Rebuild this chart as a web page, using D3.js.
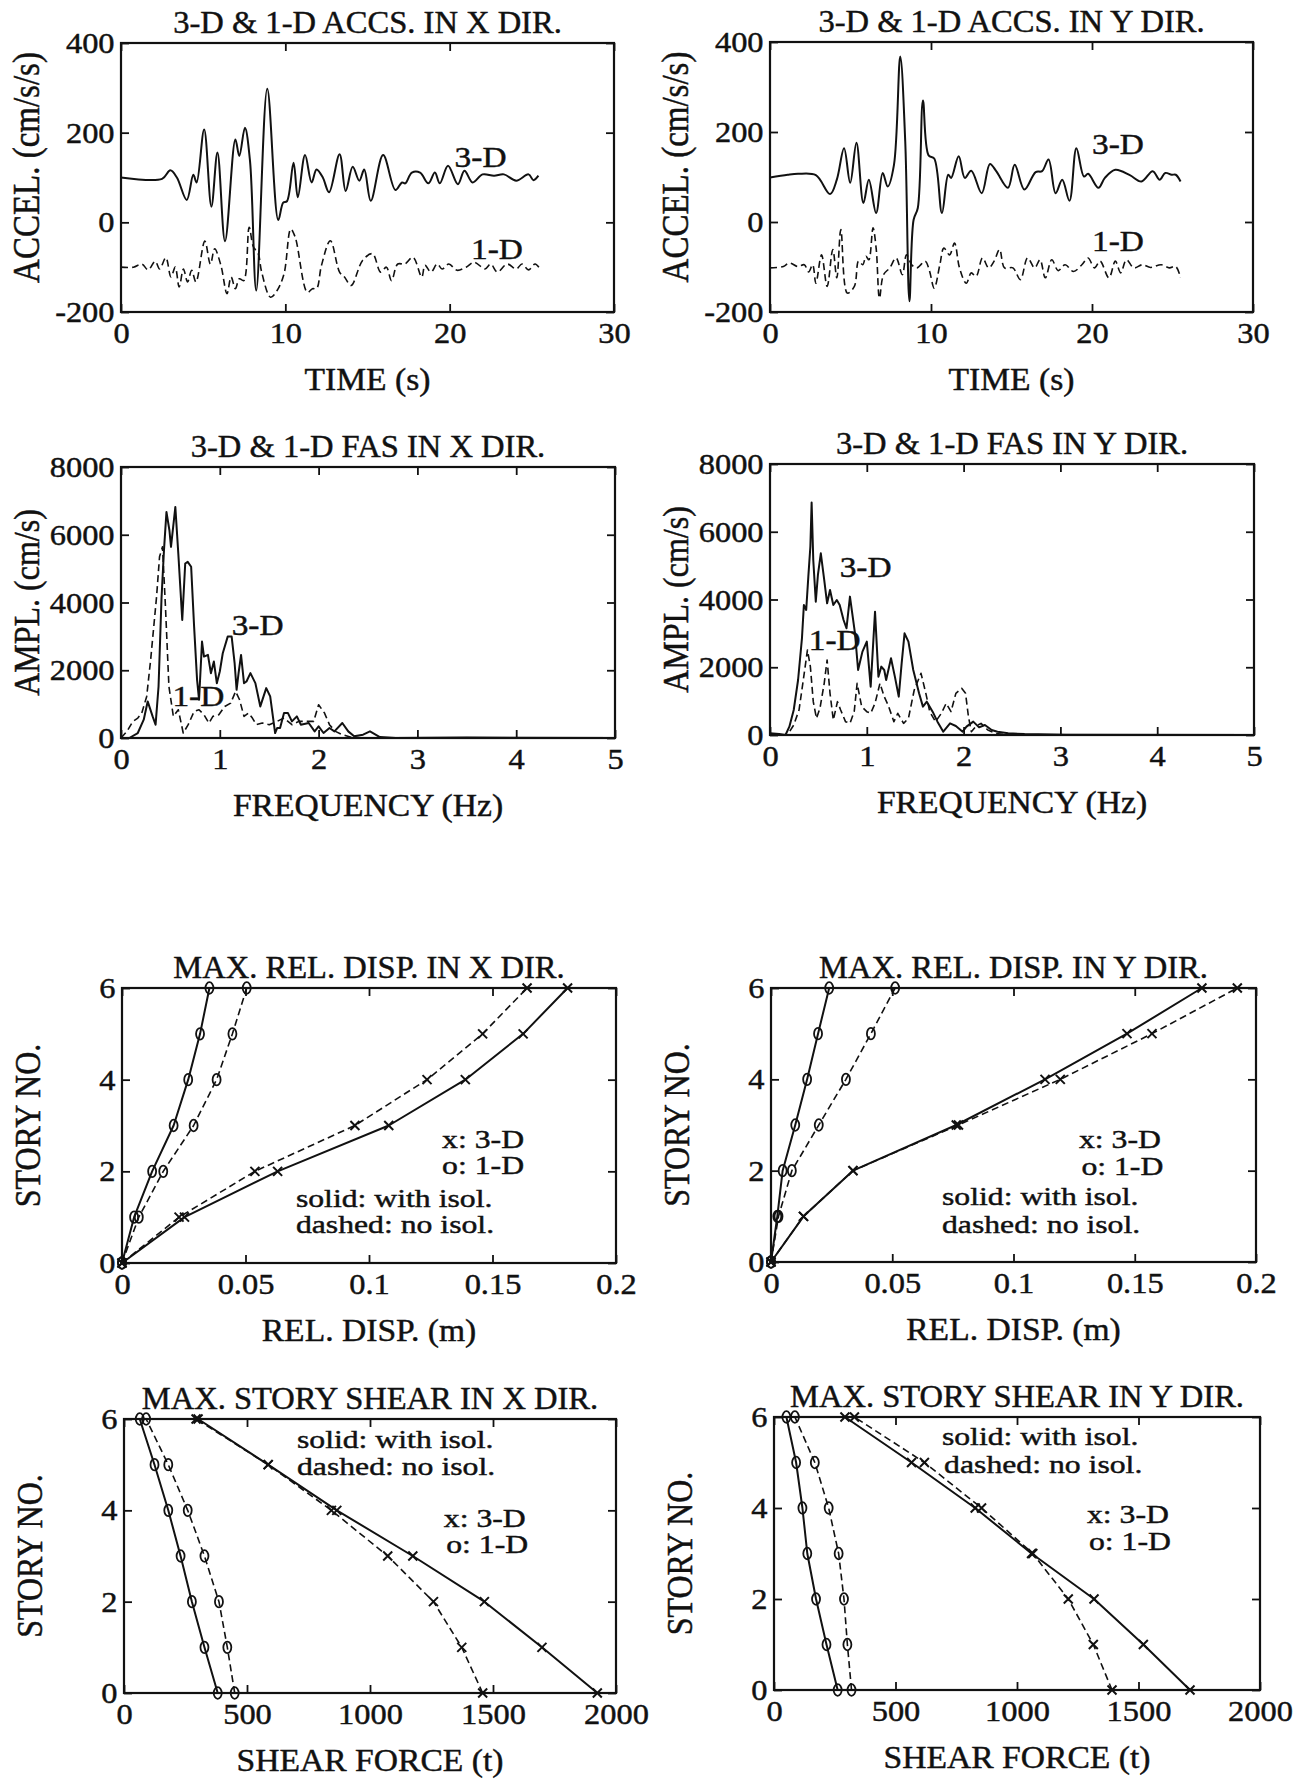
<!DOCTYPE html>
<html><head><meta charset="utf-8">
<script src="https://cdn.jsdelivr.net/npm/d3@7"></script>
<style>
body{margin:0;background:#fff;}
svg{display:block;}
text{font-family:"Liberation Serif","Times New Roman",serif;fill:#111;stroke:#111;stroke-width:0.45px;}
</style></head><body>
<svg id="fig" width="1313" height="1787"></svg>
<script>
// ---------- acceleration time histories [time s, accel cm/s/s] (3-D offset +100, 1-D offset -100) ----------
const accX3D = [[0,100],[2.5,97],[3.0,116],[3.4,100],[4.0,50],[4.4,106],[4.6,89],[5.06,207],[5.5,35],[5.87,156],[6.33,-42],[6.96,185],[7.2,148],[7.54,211],[7.85,137],[8.23,-152],[8.9,298],[9.57,5],[9.87,44],[10.1,47],[10.5,133],[10.76,56],[11.2,150],[11.6,89],[11.9,118],[12.28,100],[12.66,67],[13.3,152],[13.67,70],[14.1,124],[14.5,93],[14.8,118],[15.2,48],[15.95,150],[16.7,72],[17.1,89],[17.3,87],[17.7,111],[18.2,111],[18.7,87],[19.1,111],[19.4,87],[19.9,126],[20.5,85],[20.9,115],[21.4,89],[22.0,107],[22.7,104],[23.3,107],[24.05,93],[24.8,107],[25.1,94],[25.4,104]];
const accX1D = [[0,-100],[0.76,-100],[1.27,-93],[1.65,-106],[2.08,-87],[2.35,-104],[2.73,-79],[3.04,-122],[3.3,-100],[3.54,-144],[3.8,-104],[4.05,-133],[4.3,-107],[4.56,-133],[5.1,-42],[5.44,-93],[5.7,-59],[6.08,-96],[6.45,-159],[6.7,-122],[6.96,-148],[7.2,-126],[7.47,-130],[7.8,-11],[8.05,-54],[8.35,-70],[8.56,-111],[9.1,-167],[9.5,-152],[9.92,-115],[10.33,-15],[10.6,-33],[11.34,-156],[11.65,-148],[11.9,-148],[12.2,-96],[12.74,-41],[13.3,-111],[13.6,-122],[14.0,-141],[14.7,-85],[15.3,-70],[15.8,-111],[16.15,-100],[16.46,-130],[16.84,-93],[17.27,-93],[17.77,-78],[18.3,-122],[18.5,-96],[18.86,-111],[19.24,-93],[19.54,-104],[19.95,-93],[20.45,-107],[21.0,-100],[21.5,-89],[22.15,-104],[22.5,-93],[22.9,-111],[23.5,-93],[24.05,-104],[24.4,-93],[24.8,-106],[25.2,-93],[25.5,-104]];
const accY3D = [[0,99],[1.1,105],[1.74,107],[2.85,104],[3.73,62],[4.15,94],[4.6,164],[4.98,87],[5.37,176],[5.8,42],[6.14,94],[6.59,20],[7.0,109],[7.31,79],[7.7,127],[8.09,368],[8.4,179],[8.66,-176],[8.92,5],[9.18,31],[9.5,270],[9.85,148],[10.2,141],[10.68,20],[11.07,105],[11.25,98],[11.72,146],[12.1,98],[12.5,114],[13.15,64],[13.66,129],[14.05,113],[14.78,76],[15.2,127],[15.8,72],[16.5,111],[16.9,113],[17.3,139],[17.74,64],[18.15,94],[18.6,47],[19.03,164],[19.5,101],[19.76,107],[20.4,76],[20.8,98],[21.45,116],[22.35,104],[23.07,90],[23.77,113],[24.2,94],[24.55,109],[24.95,105],[25.2,105],[25.5,90]];
const accY1D = [[0,-102],[0.83,-99],[1.2,-91],[1.74,-99],[2.13,-95],[2.4,-111],[2.65,-95],[2.85,-136],[3.2,-73],[3.55,-143],[3.9,-61],[4.15,-124],[4.4,-17],[4.8,-158],[5.24,-143],[5.5,-87],[5.76,-95],[5.96,-76],[6.14,-84],[6.4,-13],[6.6,-61],[6.8,-169],[7.05,-117],[7.44,-102],[7.83,-80],[8.22,-117],[8.48,-73],[8.8,-95],[9.12,-102],[9.64,-87],[9.9,-108],[10.2,-147],[10.55,-95],[10.8,-58],[11.15,-73],[11.46,-47],[11.77,-102],[12.19,-136],[12.5,-113],[12.8,-121],[13.2,-80],[13.58,-102],[13.92,-87],[14.26,-61],[14.57,-102],[15.09,-102],[15.55,-128],[16.0,-80],[16.44,-102],[16.77,-84],[17.1,-124],[17.5,-84],[17.9,-108],[18.33,-95],[18.85,-110],[19.37,-95],[19.76,-80],[20.15,-102],[20.5,-87],[21.05,-124],[21.45,-87],[21.78,-113],[22.14,-84],[22.6,-102],[23.13,-95],[23.64,-101],[24.3,-95],[24.8,-102],[25.2,-99],[25.5,-124]];

// ---------- Fourier amplitude spectra [frequency Hz, amplitude cm/s] ----------
const fasX3D = [[0,0],[0.084,0],[0.17,147],[0.23,540],[0.27,1080],[0.32,638],[0.35,393],[0.38,1521],[0.41,4122],[0.435,5545],[0.46,6673],[0.49,6133],[0.506,5643],[0.55,6820],[0.58,5447],[0.62,3484],[0.65,5152],[0.675,5201],[0.71,5054],[0.74,3288],[0.77,1717],[0.79,1129],[0.82,2846],[0.84,2404],[0.88,2453],[0.91,1914],[0.94,2257],[0.97,1619],[1.0,1963],[1.03,2502],[1.08,2993],[1.12,2993],[1.15,2208],[1.17,1423],[1.19,1914],[1.215,2453],[1.245,1619],[1.27,1668],[1.31,1914],[1.36,1619],[1.41,932],[1.47,1472],[1.51,1227],[1.56,147],[1.58,294],[1.61,294],[1.65,736],[1.69,736],[1.73,491],[1.78,638],[1.82,393],[1.9,442],[1.96,196],[2.0,343],[2.05,147],[2.11,294],[2.16,196],[2.24,442],[2.3,196],[2.36,49],[2.45,98],[2.52,196],[2.62,29],[2.78,0],[3.5,15],[5.0,0]];
const fasX1D = [[0,0],[0.06,196],[0.12,491],[0.17,589],[0.21,736],[0.26,1227],[0.30,2306],[0.36,4171],[0.39,5349],[0.42,5643],[0.45,3877],[0.485,1521],[0.53,638],[0.58,834],[0.63,147],[0.68,393],[0.74,785],[0.79,834],[0.84,687],[0.89,442],[0.93,638],[0.99,687],[1.05,932],[1.11,1030],[1.16,1374],[1.2,1129],[1.245,638],[1.29,736],[1.33,589],[1.37,393],[1.43,442],[1.5,393],[1.58,491],[1.65,589],[1.73,393],[1.8,491],[1.88,491],[1.95,491],[2.0,981],[2.06,736],[2.11,393],[2.17,196],[2.24,98],[2.32,29],[2.45,0],[5.0,0]];
const fasY3D = [[0,49],[0.095,30],[0.16,0],[0.2,246],[0.245,738],[0.29,1624],[0.33,2854],[0.35,3839],[0.374,3691],[0.396,4675],[0.417,5561],[0.43,6860],[0.447,5167],[0.473,3937],[0.495,4724],[0.525,5364],[0.56,4577],[0.59,3888],[0.62,4281],[0.654,3839],[0.69,3986],[0.72,3839],[0.76,3396],[0.79,3150],[0.826,4085],[0.878,3002],[0.91,1919],[0.955,2461],[1.0,2756],[1.04,1427],[1.085,3642],[1.12,1722],[1.15,2018],[1.18,1919],[1.2,1624],[1.25,2264],[1.29,1722],[1.33,1132],[1.36,2116],[1.39,3002],[1.43,2756],[1.48,1919],[1.54,1230],[1.58,837],[1.62,984],[1.68,689],[1.73,394],[1.79,98],[1.86,344],[1.92,266],[1.99,98],[2.03,246],[2.1,394],[2.16,226],[2.22,295],[2.29,148],[2.35,98],[2.46,49],[2.63,30],[3.06,10],[5.0,0]];
const fasY1D = [[0,0],[0.18,0],[0.245,295],[0.3,738],[0.344,1624],[0.387,2510],[0.417,2018],[0.447,984],[0.48,492],[0.516,787],[0.56,1526],[0.59,2215],[0.62,1230],[0.654,443],[0.697,984],[0.73,738],[0.78,394],[0.826,344],[0.87,689],[0.9,1526],[0.947,837],[1.0,689],[1.04,640],[1.085,935],[1.136,1526],[1.18,1132],[1.22,886],[1.28,394],[1.32,640],[1.38,344],[1.43,492],[1.49,1329],[1.56,1821],[1.61,1230],[1.65,689],[1.71,394],[1.77,640],[1.82,935],[1.87,689],[1.92,1230],[1.98,1378],[2.02,1230],[2.05,541],[2.08,98],[2.13,266],[2.18,344],[2.25,148],[2.33,49],[2.46,0],[5.0,0]];

// ---------- story profiles, stories 0..6 ----------
const stories = [0, 1, 2, 3, 4, 5, 6];
// max relative displacement (m)
const dispX3DIsol = [0, 0.0253, 0.063, 0.108, 0.139, 0.1624, 0.1804];
const dispX3DFixed = [0, 0.0231, 0.0538, 0.0943, 0.1235, 0.146, 0.164];
const dispX1DIsol = [0, 0.0049, 0.0122, 0.0209, 0.0268, 0.0316, 0.0354];
const dispX1DFixed = [0, 0.0068, 0.0167, 0.029, 0.0383, 0.0447, 0.0505];
const dispY3DIsol = [0, 0.0134, 0.0338, 0.0764, 0.113, 0.1468, 0.1777];
const dispY3DFixed = [0, 0.0134, 0.0338, 0.0773, 0.1193, 0.1571, 0.1923];
const dispY1DIsol = [0, 0.0026, 0.0048, 0.010, 0.0149, 0.0194, 0.024];
const dispY1DFixed = [0, 0.0031, 0.0086, 0.0197, 0.0309, 0.0412, 0.0512];
// max story shear (t)
const shearX3DIsol = [1924, 1699, 1465, 1174, 865, 586, 301];
const shearX3DFixed = [1458, 1373, 1258, 1072, 843, 586, 293];
const shearX1DIsol = [381, 327, 276, 230, 180, 124, 64];
const shearX1DFixed = [450, 420, 386, 327, 259, 180, 90];
const shearY3DIsol = [1712, 1520, 1317, 1060, 828, 566, 292];
const shearY3DFixed = [1391, 1314, 1211, 1065, 854, 619, 331];
const shearY1DIsol = [262, 216, 173, 137, 117, 91, 51];
const shearY1DFixed = [319, 302, 288, 266, 225, 168, 86];

// ---------- tick values ----------
const timeTicks = [0, 10, 20, 30];
const accTicks = [-200, 0, 200, 400];
const freqTicks = [0, 1, 2, 3, 4, 5];
const amplTicks = [0, 2000, 4000, 6000, 8000];
const dispTicks = [0, 0.05, 0.1, 0.15, 0.2];
const shearTicks = [0, 500, 1000, 1500, 2000];
const storyTicks = [0, 2, 4, 6];

const legendLines = ["x: 3-D", "o: 1-D", "solid: with isol.", "dashed: no isol."];

const INK = "#111";
const svg = d3.select("#fig");
svg.append("rect").attr("width", 1313).attr("height", 1787).attr("fill", "#fff");

function addText(g, str, x, y, o) {
  let tr = `translate(${x},${y})`;
  if (o.rotate) tr += ` rotate(${o.rotate})`;
  tr += ` scale(${o.sx || 1},${o.sy || 1})`;
  const t = g.append("text").attr("transform", tr)
    .attr("text-anchor", o.anchor || "start")
    .attr("font-size", o.size).text(str);
  if (o.dy) t.attr("dy", o.dy);
  return t;
}

const profile = vals => vals.map((v, i) => [v, stories[i]]);
// plain labels with an ASCII hyphen for negatives
const plain = d => String(d);

function panel(cfg) {
  const b = cfg.box;
  const x = d3.scaleLinear().domain(cfg.xDomain).range([b.x0, b.x1]);
  const y = d3.scaleLinear().domain(cfg.yDomain).range([b.y1, b.y0]);
  const g = svg.append("g");

  // data
  cfg.series.forEach(s => {
    const line = d3.line().x(d => x(d[0])).y(d => y(d[1])).curve(s.curve || d3.curveLinear);
    g.append("path").datum(s.data).attr("d", line)
      .attr("fill", "none").attr("stroke", INK)
      .attr("stroke-width", s.dashed ? 1.6 : 2.0)
      .attr("stroke-linejoin", "round")
      .attr("stroke-dasharray", s.dashed ? "7,4" : null);
    if (s.marker === "x") {
      g.selectAll(null).data(s.data).join("path")
        .attr("transform", d => `translate(${x(d[0])},${y(d[1])})`)
        .attr("d", "M-4.5,-4.5L4.5,4.5M-4.5,4.5L4.5,-4.5")
        .attr("stroke", INK).attr("stroke-width", 2).attr("fill", "none");
    } else if (s.marker === "o") {
      g.selectAll(null).data(s.data).join("ellipse")
        .attr("cx", d => x(d[0])).attr("cy", d => y(d[1]))
        .attr("rx", 4).attr("ry", 5.8)
        .attr("stroke", INK).attr("stroke-width", 1.8).attr("fill", "none");
    }
  });

  // frame with inward ticks on all four sides
  g.append("rect").attr("x", b.x0).attr("y", b.y0)
    .attr("width", b.x1 - b.x0).attr("height", b.y1 - b.y0)
    .attr("fill", "none").attr("stroke", INK).attr("stroke-width", 2.2);

  const styleAxis = (sel, labelScale) => {
    sel.select(".domain").remove();
    sel.attr("font-family", null).attr("font-size", 30).attr("color", INK);
    sel.selectAll("line").attr("stroke-width", 1.8);
    if (labelScale) sel.selectAll("text").attr("transform", `scale(${labelScale},1)`);
    else sel.selectAll("text").remove();
  };
  g.append("g").attr("transform", `translate(0,${b.y1})`)
    .call(d3.axisBottom(x).tickValues(cfg.xTicks).tickSize(-8).tickSizeOuter(0).tickPadding(10).tickFormat(cfg.xFmt || plain))
    .call(s => styleAxis(s, 1.08));
  g.append("g").attr("transform", `translate(0,${b.y0})`)
    .call(d3.axisTop(x).tickValues(cfg.xTicks).tickSize(-8).tickSizeOuter(0))
    .call(s => styleAxis(s, 0));
  g.append("g").attr("transform", `translate(${b.x0},0)`)
    .call(d3.axisLeft(y).tickValues(cfg.yTicks).tickSize(-8).tickSizeOuter(0).tickPadding(6).tickFormat(cfg.yFmt || plain))
    .call(s => styleAxis(s, 1.08));
  g.append("g").attr("transform", `translate(${b.x1},0)`)
    .call(d3.axisRight(y).tickValues(cfg.yTicks).tickSize(-8).tickSizeOuter(0))
    .call(s => styleAxis(s, 0));

  // title and axis labels
  const cx = (b.x0 + b.x1) / 2, cy = (b.y0 + b.y1) / 2;
  addText(g, cfg.title, cx, b.y0 - 10, {size: 31, sx: 1.05, anchor: "middle"});
  addText(g, cfg.xLabel, cx, b.y1 + 78, {size: 32, sx: 1.05, anchor: "middle"});
  addText(g, cfg.yLabel, b.x0 - 95, cy + (cfg.yLabelShift || 0),
          {size: cfg.yLabelSize || 32, rotate: -90, sy: 1.12, anchor: "middle", dy: "0.35em"});

  // in-plot annotations placed in data coordinates
  (cfg.notes || []).forEach(n => addText(g, n.text, x(n.x), y(n.y), {size: n.big ? 29 : 26, sx: n.big ? 1.15 : 1.22}));
}

const smooth = d3.curveCatmullRom.alpha(0.5);

panel({
  box: {x0: 121, x1: 614, y0: 43, y1: 312},
  xDomain: [0, 30], yDomain: [-200, 400], xTicks: timeTicks, yTicks: accTicks,
  title: "3-D & 1-D ACCS. IN X DIR.", xLabel: "TIME (s)", yLabel: "ACCEL.   (cm/s/s)",
  yLabelSize: 33, yLabelShift: -10,
  series: [{data: accX3D, curve: smooth}, {data: accX1D, curve: smooth, dashed: true}],
  notes: [{text: "3-D", x: 20.3, y: 124, big: true}, {text: "1-D", x: 21.3, y: -81, big: true}]
});
panel({
  box: {x0: 770, x1: 1253, y0: 42, y1: 312},
  xDomain: [0, 30], yDomain: [-200, 400], xTicks: timeTicks, yTicks: accTicks,
  title: "3-D & 1-D ACCS. IN Y DIR.", xLabel: "TIME (s)", yLabel: "ACCEL.   (cm/s/s)",
  yLabelSize: 33, yLabelShift: -10,
  series: [{data: accY3D, curve: smooth}, {data: accY1D, curve: smooth, dashed: true}],
  notes: [{text: "3-D", x: 20.0, y: 151, big: true}, {text: "1-D", x: 20.0, y: -65, big: true}]
});
panel({
  box: {x0: 121, x1: 615, y0: 467, y1: 738},
  xDomain: [0, 5], yDomain: [0, 8000], xTicks: freqTicks, yTicks: amplTicks,
  title: "3-D & 1-D FAS IN X DIR.", xLabel: "FREQUENCY (Hz)", yLabel: "AMPL. (cm/s)",
  series: [{data: fasX3D}, {data: fasX1D, dashed: true}],
  notes: [{text: "3-D", x: 1.12, y: 3042, big: true}, {text: "1-D", x: 0.52, y: 932, big: true}]
});
panel({
  box: {x0: 770, x1: 1254, y0: 464, y1: 735},
  xDomain: [0, 5], yDomain: [0, 8000], xTicks: freqTicks, yTicks: amplTicks,
  title: "3-D & 1-D FAS IN Y DIR.", xLabel: "FREQUENCY (Hz)", yLabel: "AMPL. (cm/s)",
  series: [{data: fasY3D}, {data: fasY1D, dashed: true}],
  notes: [{text: "3-D", x: 0.72, y: 4675, big: true}, {text: "1-D", x: 0.40, y: 2510, big: true}]
});

panel({
  box: {x0: 122, x1: 616, y0: 988, y1: 1263},
  xDomain: [0, 0.2], yDomain: [0, 6], xTicks: dispTicks, yTicks: storyTicks,
  title: "MAX. REL. DISP. IN X DIR.", xLabel: "REL. DISP. (m)", yLabel: "STORY NO.",
  series: [
    {data: profile(dispX1DIsol), marker: "o"}, {data: profile(dispX1DFixed), marker: "o", dashed: true},
    {data: profile(dispX3DIsol), marker: "x"}, {data: profile(dispX3DFixed), marker: "x", dashed: true}
  ],
  notes: [{text: legendLines[0], x: 0.1296, y: 2.51}, {text: legendLines[1], x: 0.1296, y: 1.94},
          {text: legendLines[2], x: 0.0704, y: 1.22}, {text: legendLines[3], x: 0.0704, y: 0.65}]
});
panel({
  box: {x0: 771, x1: 1256, y0: 988, y1: 1262},
  xDomain: [0, 0.2], yDomain: [0, 6], xTicks: dispTicks, yTicks: storyTicks,
  title: "MAX. REL. DISP. IN Y DIR.", xLabel: "REL. DISP. (m)", yLabel: "STORY NO.",
  series: [
    {data: profile(dispY1DIsol), marker: "o"}, {data: profile(dispY1DFixed), marker: "o", dashed: true},
    {data: profile(dispY3DIsol), marker: "x"}, {data: profile(dispY3DFixed), marker: "x", dashed: true}
  ],
  notes: [{text: legendLines[0], x: 0.127, y: 2.5}, {text: legendLines[1], x: 0.128, y: 1.91},
          {text: legendLines[2], x: 0.0705, y: 1.25}, {text: legendLines[3], x: 0.0705, y: 0.64}]
});
panel({
  box: {x0: 124, x1: 616, y0: 1419, y1: 1693},
  xDomain: [0, 2000], yDomain: [0, 6], xTicks: shearTicks, yTicks: storyTicks,
  title: "MAX. STORY SHEAR IN X DIR.", xLabel: "SHEAR FORCE (t)", yLabel: "STORY NO.",
  series: [
    {data: profile(shearX1DIsol), marker: "o"}, {data: profile(shearX1DFixed), marker: "o", dashed: true},
    {data: profile(shearX3DIsol), marker: "x"}, {data: profile(shearX3DFixed), marker: "x", dashed: true}
  ],
  notes: [{text: legendLines[2], x: 703, y: 5.37}, {text: legendLines[3], x: 703, y: 4.77},
          {text: legendLines[0], x: 1300, y: 3.63}, {text: legendLines[1], x: 1310, y: 3.07}]
});
panel({
  box: {x0: 774, x1: 1260, y0: 1417, y1: 1690},
  xDomain: [0, 2000], yDomain: [0, 6], xTicks: shearTicks, yTicks: storyTicks,
  title: "MAX. STORY SHEAR IN Y DIR.", xLabel: "SHEAR FORCE (t)", yLabel: "STORY NO.",
  series: [
    {data: profile(shearY1DIsol), marker: "o"}, {data: profile(shearY1DFixed), marker: "o", dashed: true},
    {data: profile(shearY3DIsol), marker: "x"}, {data: profile(shearY3DFixed), marker: "x", dashed: true}
  ],
  notes: [{text: legendLines[2], x: 691, y: 5.38}, {text: legendLines[3], x: 700, y: 4.77},
          {text: legendLines[0], x: 1288, y: 3.67}, {text: legendLines[1], x: 1296, y: 3.08}]
});
</script>
</body></html>
